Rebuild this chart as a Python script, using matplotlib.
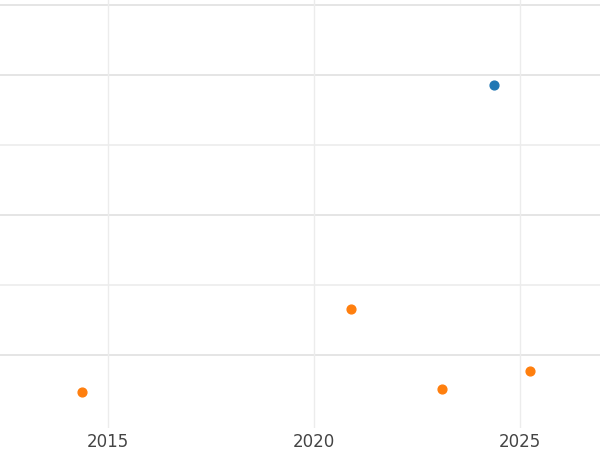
import matplotlib.pyplot as plt

blue_x = [2024.37]
blue_y = [3.86]
orange_x = [2014.37, 2020.9, 2023.11, 2025.24]
orange_y = [-0.53, 0.66, -0.48, -0.23]
x_ticks = [2015, 2020, 2025]

fig = plt.figure(figsize=(6, 4.5), dpi=100)
ax = fig.add_axes([0, 0.05, 1, 0.95])
ax.set_xlim(2012.38, 2026.94)
ax.set_ylim(-1.03, 5.07)

for y, c in [(0, "#e0e0e0"), (1, "#ececec"), (2, "#e0e0e0"), (3, "#ececec"), (4, "#e0e0e0"), (5, "#e0e0e0")]:
    ax.axhline(y, color=c, lw=1.2, zorder=0)
for x in x_ticks:
    ax.axvline(x, color="#ececec", lw=1, zorder=0)

ax.scatter(blue_x, blue_y, color="#1f77b4", s=40, zorder=3)
ax.scatter(orange_x, orange_y, color="#ff7f0e", s=40, zorder=3)

ax.set_xticks(x_ticks)
ax.set_xticklabels([str(t) for t in x_ticks], fontsize=12, color="#444444")
ax.tick_params(axis="x", length=0, pad=4)
ax.set_yticks([])
for s in ax.spines.values():
    s.set_visible(False)

fig.savefig("out.png", dpi=100)
